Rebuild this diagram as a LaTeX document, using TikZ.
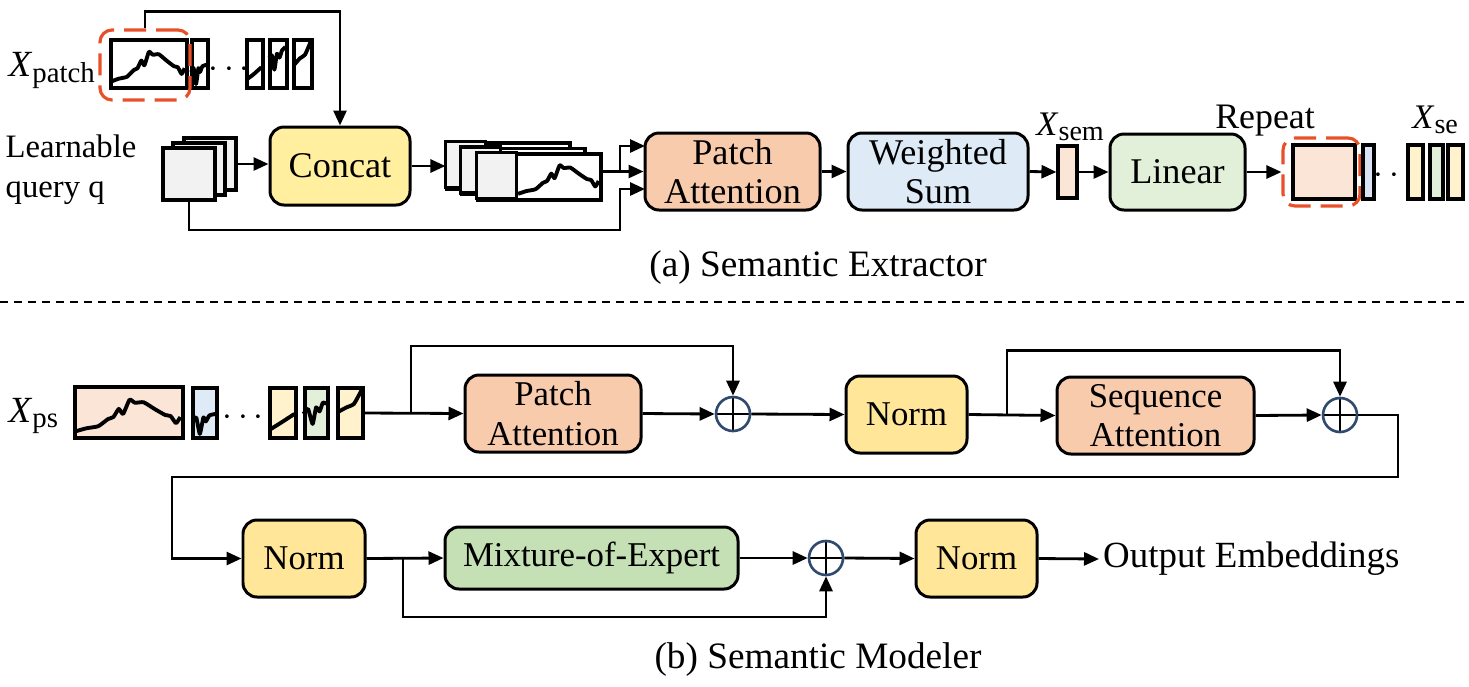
\documentclass[tikz,border=0pt]{standalone}
\usepackage{fontspec}
\setmainfont{Liberation Serif}
\usetikzlibrary{arrows.meta}
\definecolor{qgrey}{HTML}{F2F2F2}
\definecolor{concatc}{HTML}{FFEF9F}
\definecolor{pac}{HTML}{F8CBAD}
\definecolor{wsc}{HTML}{DEEBF7}
\definecolor{pinkc}{HTML}{FBE5D6}
\definecolor{linc}{HTML}{E2F0D9}
\definecolor{bluec}{HTML}{DAE3F3}
\definecolor{ylc}{HTML}{FFF2CC}
\definecolor{normc}{HTML}{FFE699}
\definecolor{moec}{HTML}{C5E0B4}
\definecolor{redc}{HTML}{E8502A}
\definecolor{opc}{HTML}{2F4A6E}
% signal drawn inside a patch, in units of the patch size
\newcommand{\wave}[4]{\begin{scope}[shift={(#1)},x=#2,y=-#3]
  \draw[sig] plot[smooth,tension=0.3] coordinates {#4};
\end{scope}}
\newcommand{\bigsig}[3]{\wave{#1}{#2}{#3}{(0.02,0.9) (0.12,0.84) (0.23,0.8) (0.32,0.66) (0.37,0.62) (0.42,0.46) (0.46,0.56) (0.52,0.28) (0.57,0.34) (0.65,0.33) (0.75,0.46) (0.85,0.58) (0.9,0.6) (0.95,0.74) (0.99,0.62)}}
\begin{document}
\begin{tikzpicture}[x=0.1mm,y=-0.1mm,>={Triangle[length=1.5mm,width=1.3mm]},
  block/.style={draw, line width=0.85pt, rounded corners=1.4mm, align=center, inner sep=0pt, font=\fontsize{10.3}{11.3}\selectfont},
  blockb/.style={block, font=\fontsize{9.9}{11.2}\selectfont},
  patch/.style={draw, line width=0.9pt, inner sep=0pt},
  sig/.style={line width=1.1pt, line join=round},
  redbox/.style={draw=redc, line width=0.9pt, dash pattern=on 2.2mm off 1mm, rounded corners=1.2mm, inner sep=0pt},
  conn/.style={line width=0.8pt},
  oplus/.style={circle, draw=opc, line width=0.75pt, minimum size=3.4mm, inner sep=0pt,
    path picture={\draw[black, line width=0.75pt] (path picture bounding box.north) -- (path picture bounding box.south)
      (path picture bounding box.west) -- (path picture bounding box.east);}},
  lab/.style={inner sep=0pt, font=\fontsize{10.5}{12}\selectfont}]
  \useasboundingbox (0,0) rectangle (1469,686);

  % (a) semantic extractor
  \node[lab, anchor=base west] (xplab) at (8,76) {\textit{X}\textsubscript{\fontsize{8.2}{9}\selectfont patch}};
  \node[patch, minimum width=7.6mm, minimum height=4.8mm] (p1) at (149,64) {};
  \node[patch, minimum width=1.6mm, minimum height=4.8mm] (p2) at (200,64) {};
  \node (dots1) at (229,70) {$\cdots$};
  \node[patch, minimum width=1.6mm, minimum height=4.8mm] (p3) at (255,64) {};
  \node[patch, minimum width=1.7mm, minimum height=4.8mm] (p4) at (278.5,64) {};
  \node[patch, minimum width=1.8mm, minimum height=4.8mm] (p5) at (303,64) {};
  \bigsig{p1.north west}{7.6mm}{4.8mm}
  \wave{p2.north west}{1.6mm}{4.8mm}{(0.05,0.7) (0.2,0.62) (0.35,0.95) (0.5,0.62) (0.6,0.7) (0.75,0.58) (1.0,0.55)}
  \wave{p3.north west}{1.6mm}{4.8mm}{(0.1,0.85) (0.5,0.75) (1.0,0.6)}
  \wave{p4.north west}{1.7mm}{4.8mm}{(0.05,0.4) (0.2,0.35) (0.35,0.65) (0.5,0.32) (0.65,0.4) (0.8,0.25) (1.0,0.18)}
  \wave{p5.north west}{1.8mm}{4.8mm}{(0.1,0.55) (0.4,0.42) (0.7,0.34) (1.0,0.08)}
  \node[redbox, minimum width=9mm, minimum height=7mm] (pred) at (145,65) {};

  \node[anchor=west, align=left, inner sep=0pt, font=\fontsize{9.3}{11.4}\selectfont] (lq) at (5,170) {Learnable\\query q};
  \node[patch, fill=qgrey, minimum width=5.2mm, minimum height=5.2mm] (q3) at (210,164) {};
  \node[patch, fill=qgrey, minimum width=5.2mm, minimum height=5.2mm] (q2) at (199,169) {};
  \node[patch, fill=qgrey, minimum width=5.2mm, minimum height=5.2mm] (q1) at (189,174) {};

  \node[block, fill=concatc, minimum width=14mm, minimum height=7.8mm] (concat) at (340,166) {Concat};

  \node[patch, fill=white, minimum width=12.3mm, minimum height=4.6mm] (c3) at (508.5,166) {};
  \draw[patch, fill=qgrey] (c3.north west) rectangle ++(40,46);
  \node[patch, fill=white, minimum width=12.3mm, minimum height=4.6mm] (c2) at (523.5,171.5) {};
  \draw[patch, fill=qgrey] (c2.north west) rectangle ++(40,46);
  \node[patch, fill=white, minimum width=12.3mm, minimum height=4.6mm] (c1) at (539.5,177) {};
  \draw[patch, fill=qgrey] (c1.north west) rectangle ++(40,46);
  \coordinate (c1r) at ([xshift=4mm]c1.north west);
  \bigsig{c1r}{8.3mm}{4.6mm}

  \node[block, fill=pac, minimum width=17.5mm, minimum height=7.7mm] (pa) at (732.5,171.5) {Patch\\Attention};
  \node[block, fill=wsc, minimum width=18mm, minimum height=7.7mm] (ws) at (938,171.5) {Weighted\\Sum};
  \node[patch, fill=pinkc, minimum width=1.9mm, minimum height=5.2mm] (xsem) at (1067.5,172) {};
  \node[lab, anchor=base, font=\fontsize{9.8}{11}\selectfont] (xsemlab) at (1071,135) {\textit{X}\textsubscript{\fontsize{8}{9}\selectfont sem}};
  \node[block, fill=linc, minimum width=13.5mm, minimum height=7.6mm] (lin) at (1177.5,172) {Linear};
  \node[lab, anchor=base, font=\fontsize{10.2}{12}\selectfont] (replab) at (1265,128) {Repeat};
  \node[patch, fill=pinkc, minimum width=6.2mm, minimum height=5.4mm] (rpink) at (1324,172) {};
  \node[redbox, minimum width=7.7mm, minimum height=6.8mm] (rrep) at (1321.5,172) {};
  \node[patch, fill=bluec, minimum width=1.1mm, minimum height=5.4mm] (rblue) at (1368.5,172) {};
  \node (dots2) at (1394,176) {$\cdots$};
  \node[patch, fill=ylc, minimum width=1.5mm, minimum height=5.4mm] (ry1) at (1415.5,172) {};
  \node[patch, fill=linc, minimum width=1.3mm, minimum height=5.4mm] (rg) at (1436.5,172) {};
  \node[patch, fill=ylc, minimum width=1.5mm, minimum height=5.4mm] (ry2) at (1455.5,172) {};
  \node[lab, anchor=base, font=\fontsize{9.8}{11}\selectfont] (xselab) at (1436,128) {\textit{X}\textsubscript{\fontsize{8}{9}\selectfont se}};

  \draw[conn,->] (pred.north) -- ++(0,-17) -| (concat.north);
  \draw[conn,->] (q3.east) -- (q3.east -| concat.west);
  \draw[conn,->] (concat.east) -- (concat.east -| c3.west);
  \coordinate (br) at (620,171.5);
  \coordinate (pin1) at (645,146);
  \coordinate (pin3) at (645,189);
  \coordinate (qbot) at (620,230);
  \draw[conn] (c1.east |- br) -- (br);
  \draw[conn,->] (br) -- (pa.west);
  \draw[conn,->] (br) |- (pin1);
  \draw[conn,->] (q1.south) |- (qbot) |- (pin3);
  \draw[conn,->] (pa.east) -- (ws.west);
  \draw[conn,->] (ws.east) -- (xsem.west);
  \draw[conn,->] (xsem.east) -- (lin.west);
  \draw[conn,->] (lin.east) -- (rrep.west);

  \node[font=\fontsize{10.6}{12}\selectfont] (capa) at (818,268) {(a) Semantic Extractor};
  \draw[line width=0.5pt, dash pattern=on 0.8mm off 0.6mm] (0,302) -- (1469,302);

  % (b) semantic modeler
  \node[lab, anchor=base west] (xpslab) at (8,422) {\textit{X}\textsubscript{\fontsize{8.2}{9}\selectfont ps}};
  \node[patch, fill=pinkc, minimum width=10.8mm, minimum height=5.1mm] (b1) at (129,412.5) {};
  \node[patch, fill=wsc, minimum width=2.4mm, minimum height=5mm] (b2) at (205,413) {};
  \node (dots3) at (243,418) {$\cdots$};
  \node[patch, fill=ylc, minimum width=2.6mm, minimum height=5mm] (b3) at (283,413) {};
  \node[patch, fill=linc, minimum width=2.3mm, minimum height=5mm] (b4) at (316.5,413) {};
  \node[patch, fill=ylc, minimum width=2.5mm, minimum height=5mm] (b5) at (350.5,413) {};
  \bigsig{b1.north west}{10.8mm}{5.1mm}
  \wave{b2.north west}{2.4mm}{5mm}{(0.05,0.7) (0.2,0.62) (0.35,0.95) (0.5,0.62) (0.6,0.7) (0.75,0.58) (1.0,0.55)}
  \wave{b3.north west}{2.6mm}{5mm}{(0.1,0.85) (0.5,0.72) (1.0,0.55)}
  \wave{b4.north west}{2.3mm}{5mm}{(0.0,0.55) (0.2,0.45) (0.4,0.75) (0.55,0.42) (0.7,0.5) (0.85,0.32) (1.0,0.35)}
  \wave{b5.north west}{2.5mm}{5mm}{(0.1,0.5) (0.4,0.42) (0.7,0.35) (1.0,0.08)}

  \node[blockb, fill=pac, minimum width=17.6mm, minimum height=7.7mm] (pa2) at (553,413.5) {Patch\\Attention};
  \node[oplus] (op1) at (733,414) {};
  \node[blockb, fill=normc, minimum width=12.1mm, minimum height=7.7mm] (n1) at (906.5,414.5) {Norm};
  \node[blockb, fill=pac, minimum width=19.7mm, minimum height=7.7mm] (sa) at (1155.5,415.5) {Sequence\\Attention};
  \node[oplus] (op2) at (1340,415) {};
  \node[blockb, fill=normc, minimum width=12.2mm, minimum height=7.7mm] (n2) at (304,558.5) {Norm};
  \node[blockb, fill=moec, minimum width=29.3mm, minimum height=6.2mm] (moe) at (591.5,558) {Mixture-of-Expert};
  \node[oplus] (op3) at (826,558) {};
  \node[blockb, fill=normc, minimum width=12.1mm, minimum height=7.7mm] (n3) at (976.5,558.5) {Norm};
  \node[anchor=west, inner sep=1pt, font=\fontsize{10.5}{12}\selectfont] (out) at (1099,559) {Output Embeddings};

  \coordinate (s1) at (411,413);
  \coordinate (s2) at (1007,414.5);
  \coordinate (s3) at (403,558);
  \coordinate (turn1) at (1398,477);
  \coordinate (turn2) at (172,477);
  \draw[conn,->] (b5.east) -- (pa2.west);
  \draw[conn,->] (s1) -- ++(0,-67) -| (op1.north);
  \draw[conn,->] (pa2.east) -- (op1.west);
  \draw[conn,->] (op1.east) -- (n1.west);
  \draw[conn,->] (n1.east) -- (sa.west);
  \draw[conn,->] (s2) -- ++(0,-64) -| (op2.north);
  \draw[conn,->] (sa.east) -- (op2.west);
  \draw[conn,->] (op2.east) -| (turn1) -- (turn2) |- (n2.west);
  \draw[conn,->] (n2.east) -- (moe.west);
  \draw[conn,->] (s3) -- ++(0,59) -| (op3.south);
  \draw[conn,->] (moe.east) -- (op3.west);
  \draw[conn,->] (op3.east) -- (n3.west);
  \draw[conn,->] (n3.east) -- (out.west);

  \node[font=\fontsize{10.6}{12}\selectfont] (capb) at (818,660) {(b) Semantic Modeler};
\end{tikzpicture}
\end{document}
